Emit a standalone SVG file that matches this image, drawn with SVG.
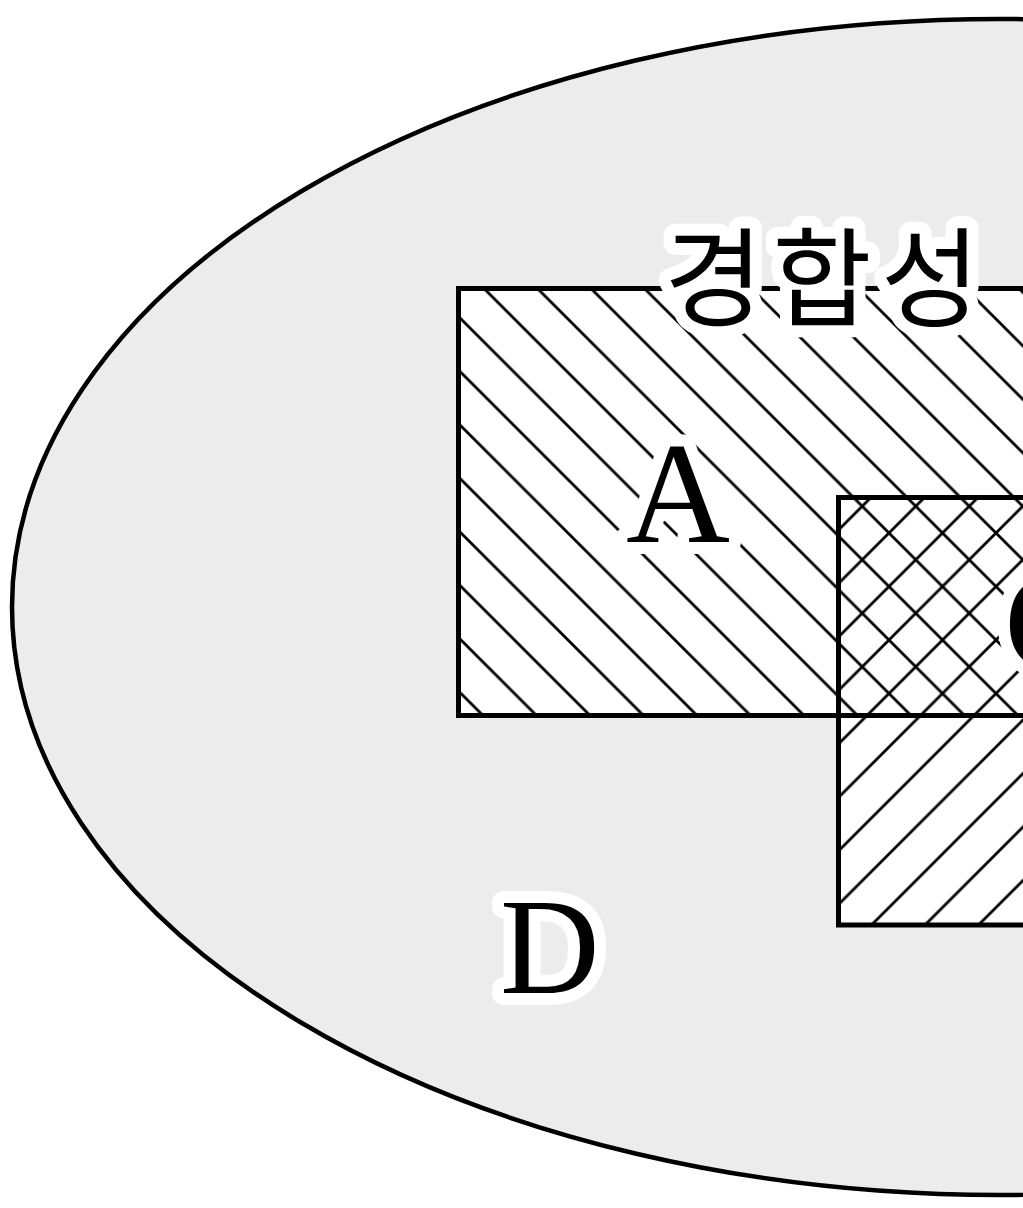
<svg xmlns="http://www.w3.org/2000/svg" width="1023" height="1208" viewBox="0 0 1023 1208">
  <style>
    .outline { fill: none; stroke: #000; stroke-width: 5; }
    .hatch { fill: none; stroke: #000; stroke-width: 2.8; }
    .lbl { fill: #000; stroke: #fff; stroke-width: 24; stroke-linejoin: round; paint-order: stroke fill; }
    .serif { font-family: "Liberation Serif", "Times New Roman", serif; }
    .kr { font-family: "Noto Sans CJK KR", "Noto Sans", sans-serif; font-weight: 400; }
  </style>
  <defs>
    <pattern id="hatchA" patternUnits="userSpaceOnUse" x="35" y="0" width="53.5" height="53.5">
      <path class="hatch" d="M-5,-5 L58.5,58.5 M48.5,-5 L58.5,5 M-5,48.5 L5,58.5"/>
    </pattern>
    <pattern id="hatchB" patternUnits="userSpaceOnUse" x="31" y="0" width="53.5" height="53.5">
      <path class="hatch" d="M-5,58.5 L58.5,-5 M-5,5 L5,-5 M48.5,58.5 L58.5,48.5"/>
    </pattern>
  </defs>
  <rect width="1023" height="1208" fill="#fff"/>
  <g id="D">
    <ellipse cx="1000" cy="607" rx="988" ry="588" fill="#ececec" stroke="#000" stroke-width="4.5"/>
  </g>
  <g id="A">
    <rect x="458.5" y="288.5" width="700" height="427" fill="#fff"/>
  </g>
  <g id="B">
    <rect x="838.5" y="497.5" width="700" height="427.5" fill="#fff"/>
  </g>
  <g id="hatching">
    <rect x="458.5" y="288.5" width="700" height="427" fill="url(#hatchA)"/>
    <rect x="838.5" y="497.5" width="700" height="427.5" fill="url(#hatchB)"/>
  </g>
  <g id="outlines">
    <rect class="outline" x="458.5" y="288.5" width="700" height="427"/>
    <rect class="outline" x="838.5" y="497.5" width="700" height="427.5"/>
  </g>
  <g id="labels">
    <text class="lbl kr" x="664" y="318" font-size="108" letter-spacing="9">경합성</text>
    <text class="lbl serif" x="626" y="542" font-size="144">A</text>
    <text class="lbl serif" x="1004" y="671" font-size="144">C</text>
    <text class="lbl serif" x="500" y="993" font-size="138">D</text>
  </g>
</svg>
